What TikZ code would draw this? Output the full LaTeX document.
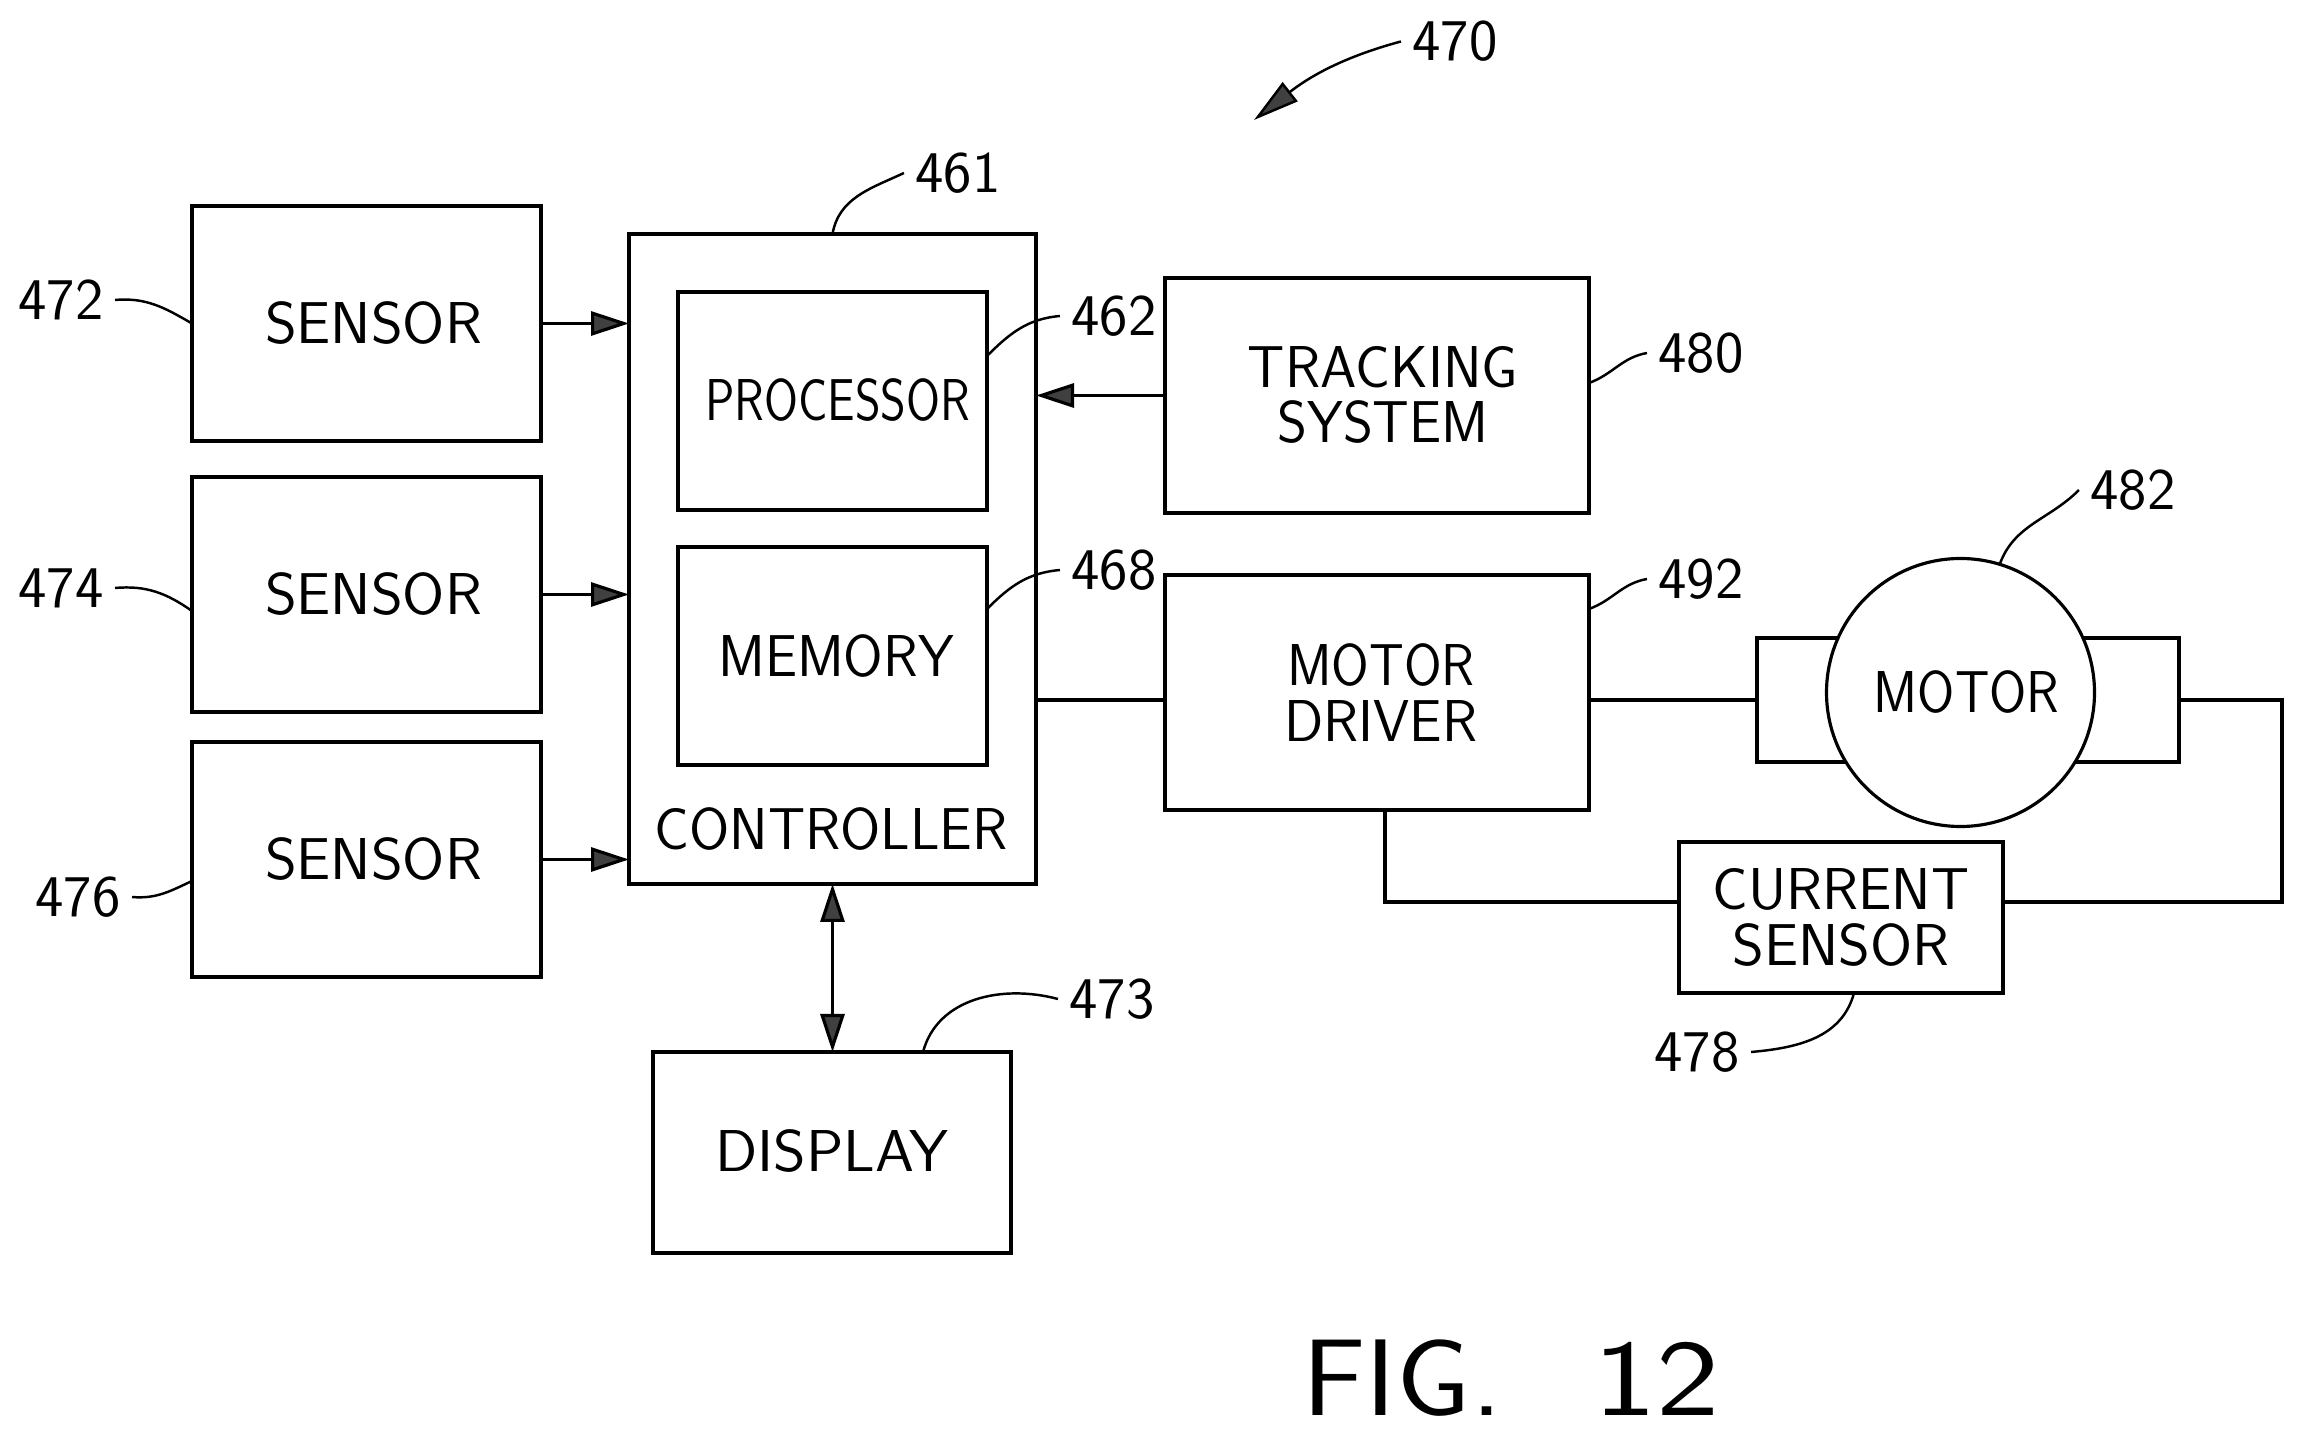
\documentclass[tikz,border=0pt]{standalone}
\usepackage{graphicx}
\usepackage{tikz}
\usetikzlibrary{calc}
\usetikzlibrary {arrows.meta}
\newcommand{\sq}[2]{\scalebox{#1}[1]{#2}}
\begin{document}
\begin{tikzpicture}[line width=0.9pt]
\tikzstyle{bx}=[draw,shape=rectangle,inner sep=0pt,outer sep=0pt,align=center,font=\sffamily\fontsize{16.8}{15.9}\selectfont]
\tikzstyle{cl}=[draw,shape=circle,fill=white,inner sep=0pt,outer sep=0pt,minimum size=2.68cm,font=\sffamily\fontsize{16.8}{15.9}\selectfont]
\tikzstyle{txt}=[inner sep=0pt,font=\sffamily\fontsize{16.8}{15.9}\selectfont]
\tikzstyle{num}=[inner sep=0.1cm,font=\sffamily\fontsize{16.8}{15.9}\selectfont]
\tikzstyle{ar}=[-{Triangle[length=0.38cm,width=0.24cm,fill=black!75]}]
\tikzstyle{ld}=[line width=0.7pt]
\useasboundingbox (0,0) rectangle (23.03,14.37);
%
\node[bx,minimum width=3.49cm,minimum height=2.35cm](sens1) at (3.665,11.135){\hspace*{0.14cm}\sq{1.03}{SENSOR}};
\node[bx,minimum width=3.49cm,minimum height=2.35cm](sens2) at (3.665,8.425){\hspace*{0.14cm}\sq{1.03}{SENSOR}};
\node[bx,minimum width=3.49cm,minimum height=2.35cm](sens3) at (3.665,5.775){\hspace*{0.14cm}\sq{1.03}{SENSOR}};
\node[bx,minimum width=4.07cm,minimum height=6.5cm](ctrl) at (8.325,8.78){};
\node[bx,minimum width=3.09cm,minimum height=2.18cm](proc) at (8.325,10.36){\hspace*{0.1cm}\raisebox{0.03cm}{\sq{0.83}{PROCESSOR}}};
\node[bx,minimum width=3.09cm,minimum height=2.18cm](mem) at (8.325,7.81){\hspace*{0.07cm}\sq{0.967}{MEMORY}};
\node[txt](ctrltxt) at (8.31,6.08){\sq{0.984}{CONTROLLER}};
\node[bx,minimum width=3.58cm,minimum height=2.01cm](disp) at (8.32,2.845){\raisebox{0.04cm}{\sq{1.055}{DISPLAY}}};
\node[bx,minimum width=4.24cm,minimum height=2.35cm](track) at (13.77,10.415){\hspace*{0.12cm}\raisebox{0.02cm}{\sq{0.985}{TRACKING}}\\\hspace*{0.12cm}\raisebox{0.02cm}{\sq{0.97}{SYSTEM}}};
\node[bx,minimum width=4.24cm,minimum height=2.35cm](mdrv) at (13.77,7.445){\hspace*{0.08cm}\sq{0.92}{MOTOR}\\\hspace*{0.08cm}\sq{0.98}{DRIVER}};
\node[bx,minimum width=4.22cm,minimum height=1.24cm](motbox) at (19.68,7.37){};
\node[cl](motor) at (19.605,7.445){\hspace*{0.12cm}\sq{0.91}{MOTOR}};
\node[bx,minimum width=3.24cm,minimum height=1.51cm](cursens) at (18.41,5.195){\sq{1.006}{CURRENT}\\\sq{1.03}{SENSOR}};
%
\node[num](n470) at (14.55,13.955){\sq{1.02}{470}};
\node[num](n461) at (9.58,12.64){\sq{1.02}{461}};
\node[num](n472) at (0.61,11.37){\sq{1.02}{472}};
\node[num](n474) at (0.61,8.49){\sq{1.02}{474}};
\node[num](n476) at (0.78,5.40){\sq{1.02}{476}};
\node[num](n462) at (11.14,11.21){\sq{1.02}{462}};
\node[num](n468) at (11.14,8.67){\sq{1.02}{468}};
\node[num](n473) at (11.12,4.38){\sq{1.02}{473}};
\node[num](n480) at (17.01,10.84){\sq{1.02}{480}};
\node[num](n492) at (17.01,8.58){\sq{1.02}{492}};
\node[num](n482) at (21.33,9.47){\sq{1.02}{482}};
\node[num](n478) at (16.97,3.85){\sq{1.02}{478}};
\node[inner sep=0pt,font=\sffamily\fontsize{31}{31}\selectfont](fig) at (15.11,0.59){\sq{1.09}{FIG.}\hspace{0.91cm}\sq{1.235}{12}};
%
\coordinate (tip470) at (12.54,13.17);
\coordinate (rcorner) at (22.82,5.35);
\coordinate (lcorner) at (13.85,5.35);
%
\draw[ar] (sens1.east) -- (sens1.east -| ctrl.west);
\draw[ar] (sens2.east) -- (sens2.east -| ctrl.west);
\draw[ar] (sens3.east) -- (sens3.east -| ctrl.west);
\draw[ar] (track.west) -- (ctrl.east |- track.west);
\draw[{Triangle[length=0.38cm,width=0.24cm,fill=black!75]}-{Triangle[length=0.38cm,width=0.24cm,fill=black!75]}] (ctrl.south) -- (disp.north -| ctrl.south);
%
\draw (ctrl.east |- motbox.west) -- (mdrv.west |- motbox.west);
\draw (mdrv.east |- motbox.west) -- (motbox.west);
\draw (motbox.east) -| (rcorner) -- (cursens.east |- rcorner);
\draw (mdrv.south -| lcorner) -- (lcorner) -- (cursens.west |- lcorner);
%
\draw[ld,-{Triangle[length=0.46cm,width=0.24cm,fill=black!75]}] (n470.west) to[out=195,in=38] (tip470);
\draw[ld] (n461.west) to[out=205,in=80] (ctrl.north);
\draw[ld] (n472.east) to[out=5,in=150] (sens1.west);
\draw[ld] (n474.east) to[out=5,in=145] ($(sens2.west)+(0,-0.165)$);
\draw[ld] (n476.east) to[out=-5,in=205] ($(sens3.west)+(0,-0.215)$);
\draw[ld] (n462.west) to[out=185,in=45] ($(proc.east)+(0,0.45)$);
\draw[ld] (n468.west) to[out=185,in=45] ($(mem.east)+(0,0.47)$);
\draw[ld] (n473.west) to[out=165,in=75] ($(disp.north)+(0.91,0)$);
\draw[ld] (n480.west) to[out=190,in=20] ($(track.east)+(0,0.125)$);
\draw[ld] (n492.west) to[out=190,in=20] ($(mdrv.east)+(0,0.835)$);
\draw[ld] (n482.west) to[out=225,in=70] (motor.73);
\draw[ld] (n478.east) to[out=5,in=-105] ($(cursens.south)+(0.13,0)$);
\end{tikzpicture}
\end{document}
